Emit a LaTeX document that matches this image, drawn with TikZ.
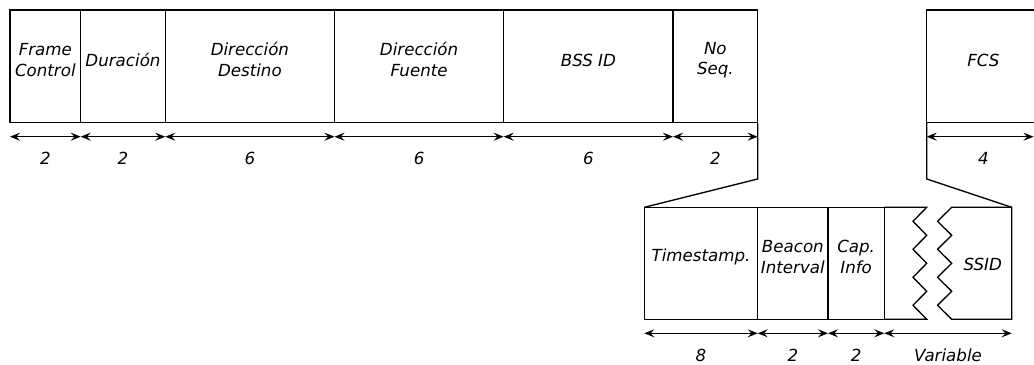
\documentclass[tikz,border=0pt]{standalone}
\usepackage{fontspec}
\setmainfont{DejaVu Sans}
\usetikzlibrary{arrows.meta,positioning,fit,calc}

\tikzset{
  field/.style={draw, inner sep=0pt, outer sep=0pt, align=center,
                font=\fontsize{12.5}{15.5}\selectfont\itshape},
  ftext/.style={inner sep=0pt, font=\fontsize{12.5}{15.5}\selectfont\itshape},
  dim/.style={<->},
  num/.style={inner sep=0pt, yshift=-16.5pt, font=\fontsize{12.5}{15.5}\selectfont\itshape}
}

\begin{document}
\begin{tikzpicture}[x=0.75pt, y=-0.75pt, line width=1pt,
                    >={Stealth[length=7.5pt, width=6pt, inset=2.8pt]}]
    \useasboundingbox (0,0) rectangle (1034,364);
    \clip (0,0) rectangle (1034,364);
    % cabecera de la trama
    \foreach \a/\b/\txt/\n/\nm in {10/80.7/{Frame\\Control}/2/fc, 80.7/165.3/{Duración}/2/dur,
                                  165.3/334.5/{Dirección\\Destino}/6/dst, 334.5/503.7/{Dirección\\Fuente}/6/src,
                                  503.7/673/{BSS ID}/6/bss, 673/757.7/{No\\Seq.}/2/seq} {
        \node[field, fit={(\a,10) (\b,122.7)}] (\nm) {\txt};
        \draw[dim] ([yshift=-10.5pt]\nm.south west) -- node[num] {\n} ([yshift=-10.5pt]\nm.south east);
    }
    \node[field, fit={(926.7,10) (1040,122.7)}] (fcs) {FCS};
    \coordinate (edge) at (1033.5,136.7);
    \draw[dim] ([yshift=-10.5pt]fcs.south west) -- node[num, pos=0.53] {4} (edge);
    % cuerpo de la trama beacon
    \foreach \a/\b/\txt/\n/\nm in {644.3/757.7/{Timestamp.}/8/ts, 757.7/828/{Beacon\\Interval}/2/bi,
                                  828/884.3/{Cap.\\Info}/2/ci} {
        \node[field, fit={(\a,207.3) (\b,319.3)}] (\nm) {\txt};
        \draw[dim] ([yshift=-10.5pt]\nm.south west) -- node[num] {\n} ([yshift=-10.5pt]\nm.south east);
    }
    \coordinate (ssidne) at (1011.7,207.3);
    \coordinate (ssidse) at (1011.7,319.3);
    \draw (ci.north east) -- (926.7,207.3)
        \foreach \k in {1,...,4} { -- ++(-13.7,14) -- ++(13.7,14) } -- (ci.south east);
    \draw (ssidne) -- (951.7,207.3)
        \foreach \k in {1,...,4} { -- ++(-14.2,14) -- ++(14.2,14) } -- (ssidse) -- cycle;
    \node[ftext] (ssid) at (982.7,264.5) {SSID};
    \draw[dim] ([yshift=-10.5pt]ci.south east) -- node[num] {Variable} ([yshift=-10.5pt]ssidse);
    % ampliacion
    \draw (seq.south east) -- ++(0,56.3) -- (ts.north west);
    \draw (fcs.south west) -- ++(0,56.3) -- (ssidne);
\end{tikzpicture}
\end{document}
